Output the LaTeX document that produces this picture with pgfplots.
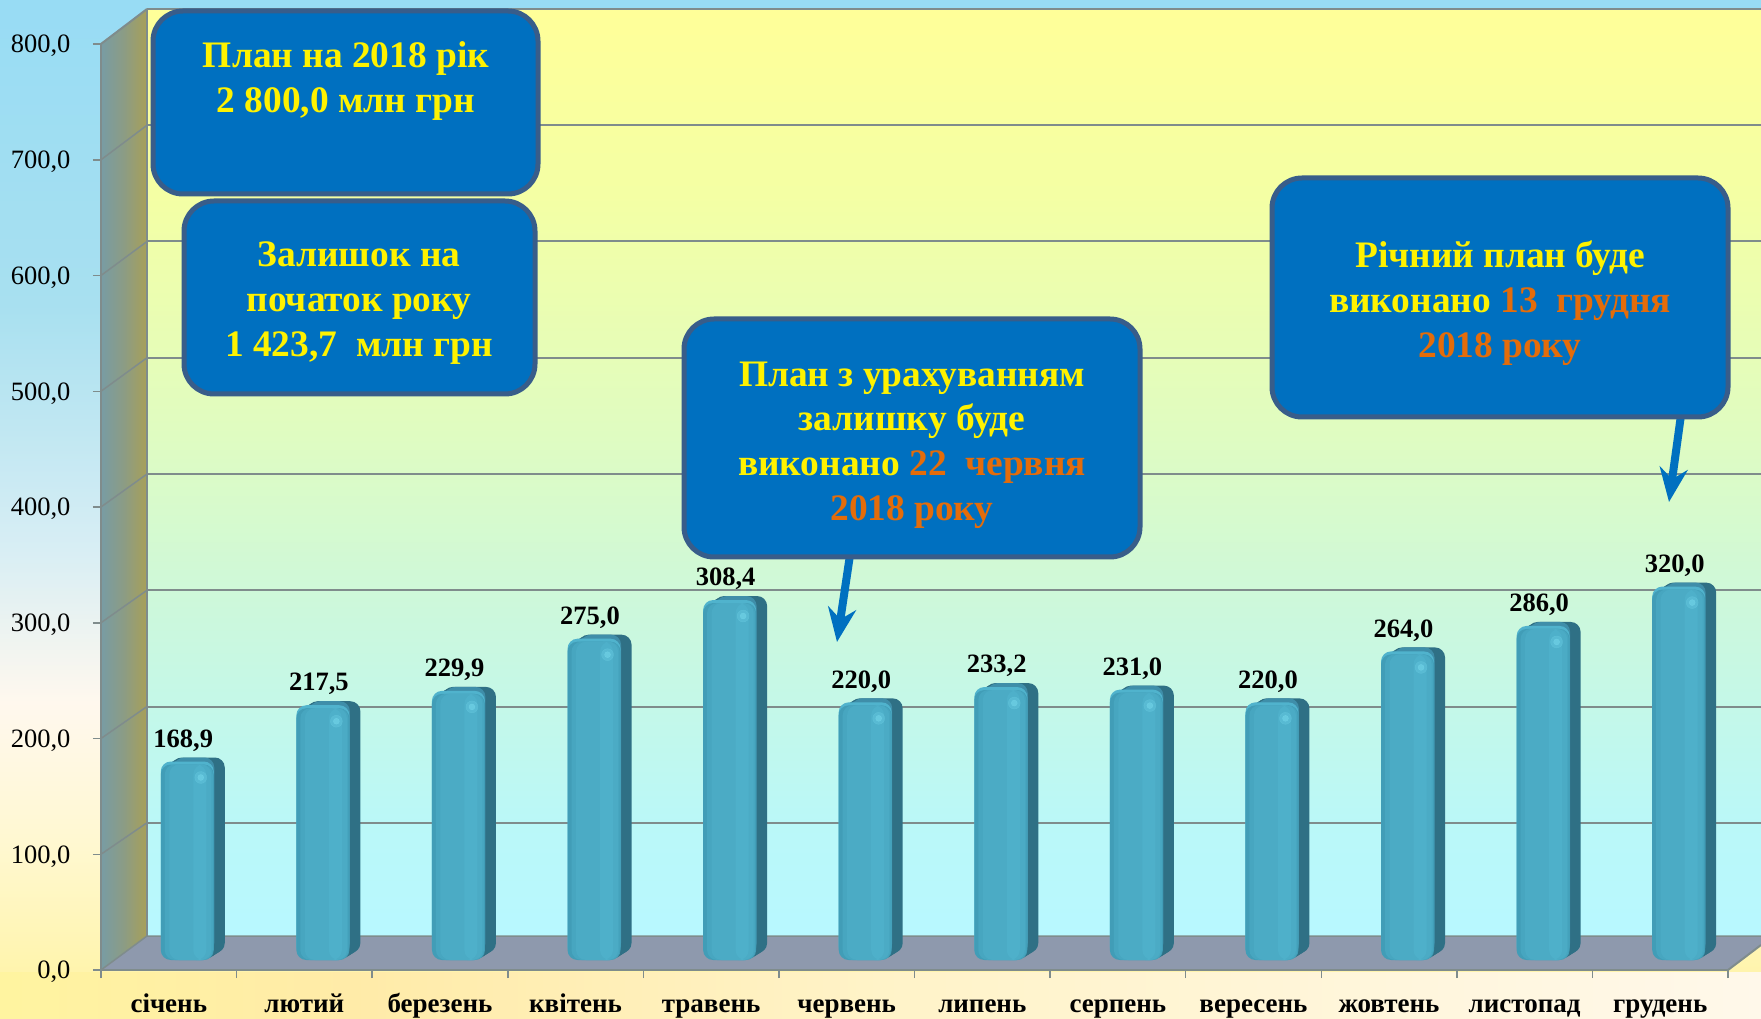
\documentclass[border=0pt]{standalone}
\usepackage{fontspec}
\setmainfont{Liberation Serif}
\usepackage{pgfplots}
\usepackage{pgfplotstable}
\pgfplotsset{compat=1.18}
\usetikzlibrary{arrows.meta}
\definecolor{boxblue}{HTML}{0070C0}
\definecolor{boxedge}{HTML}{385D8A}
\definecolor{gridgrey}{HTML}{7F8C8C}
\definecolor{orangetxt}{HTML}{E46C0A}
\definecolor{floorc}{HTML}{8E99AD}
\definecolor{hilite}{HTML}{72D4E8}
\definecolor{pa}{HTML}{FFF3A0}\definecolor{pb}{HTML}{FFF8D0}\definecolor{pc}{HTML}{FFF8EE}\definecolor{pd}{HTML}{D8EEF4}\definecolor{pe}{HTML}{A8E0F0}\definecolor{pf}{HTML}{98DCF4}
\definecolor{sa}{HTML}{FFF4A0}\definecolor{sb}{HTML}{FFEBA8}\definecolor{sc}{HTML}{FFF3C8}\definecolor{sd}{HTML}{FFF8EA}
\definecolor{wa}{HTML}{B8F8FF}\definecolor{wb}{HTML}{BAF8F8}\definecolor{wc}{HTML}{CCF8DC}\definecolor{wd}{HTML}{E0FCC0}\definecolor{we}{HTML}{F4FFA4}\definecolor{wf}{HTML}{FFFF99}
\definecolor{la}{HTML}{789CA4}\definecolor{lb}{HTML}{8C9C84}\definecolor{lc}{HTML}{A8A058}
\definecolor{ba}{HTML}{3F8EA9}\definecolor{bb}{HTML}{2F7085}
\definecolor{capc}{HTML}{50B3CD}
\definecolor{fa}{HTML}{419DB7}\definecolor{fb}{HTML}{47A6C0}\definecolor{fc}{HTML}{4BABC5}\definecolor{fd}{HTML}{4EB0CA}
\pgfdeclareverticalshading{pagebg}{100bp}{color(0bp)=(pa);color(25bp)=(pa);color(33.5bp)=(pb);color(40.5bp)=(pc);color(48bp)=(pd);color(60bp)=(pe);color(75bp)=(pf);color(100bp)=(pf)}
\pgfdeclarehorizontalshading{bottomstrip}{100bp}{color(0bp)=(sa);color(25bp)=(sa);color(35bp)=(sb);color(50bp)=(sc);color(75bp)=(sd);color(100bp)=(sd)}
\pgfdeclareverticalshading{backwall}{100bp}{color(0bp)=(wa);color(25bp)=(wa);color(31bp)=(wb);color(42.5bp)=(wc);color(52.5bp)=(wd);color(65bp)=(we);color(75bp)=(wf);color(100bp)=(wf)}
\pgfdeclarehorizontalshading{sidewall}{100bp}{color(0bp)=(la);color(25bp)=(la);color(50bp)=(lb);color(75bp)=(lc);color(100bp)=(lc)}
\pgfplotstableread{
x v
0.5 168.9
1.5 217.5
2.5 229.9
3.5 275.0
4.5 308.4
5.5 220.0
6.5 233.2
7.5 231.0
8.5 220.0
9.5 264.0
10.5 286.0
11.5 320.0
}\monthly
\begin{document}
\begin{tikzpicture}
\path[use as bounding box] (0,0) rectangle (1761pt,1018pt);
\begin{scope}[x=1pt,y=-1pt,shift={(0pt,1018pt)}]
  \shade[shading=pagebg] (0,0) rectangle (1761,1018);
  \shade[shading=bottomstrip] (0,972) rectangle (1761,1018);
  \shade[shading=backwall] (147,9) rectangle (1761,936);
  \shade[shading=sidewall] (101,43) -- (147,9) -- (147,936) -- (101,970) -- cycle;
\end{scope}
% back wall gridlines: an axis of their own, in the plane of the wall
\begin{axis}[
  scale only axis, width=1627pt, height=930pt,
  at={(147pt,79pt)}, anchor=south west,
  clip=false, xmin=0, xmax=12, ymin=0, ymax=800,
  axis line style={draw=none}, xtick=\empty, ytick={100,200,...,800}, yticklabels={},
  major tick length=0pt,
  ymajorgrids, major grid style={draw=gridgrey, line width=2pt},
]
\addplot[draw=none] coordinates {(0,0)};
\end{axis}
\begin{scope}[x=1pt,y=-1pt,shift={(0pt,1018pt)}]
  \fill[floorc] (101,970) -- (147,936) -- (1761,936) -- (1761,945) -- (1728,970) -- cycle;
  \draw[gridgrey,line width=2pt] (101,44) -- (147,9);
  \draw[gridgrey,line width=1.5pt] (147,9) -- (147,936);
  \draw[gridgrey,line width=1.5pt] (101,970) -- (147,936) -- (1761,936);
  \draw[gridgrey,line width=2pt] (1728,970) -- (1761,945);
\end{scope}
\begin{axis}[
  scale only axis, width=1627pt, height=926pt,
  at={(101pt,48pt)}, anchor=south west,
  clip=false,
  xmin=0, xmax=12, ymin=0, ymax=800,
  axis x line*=bottom, axis y line*=left,
  axis line style={draw=gridgrey, line width=2pt, -},
  xtick={0,...,12},
  x tick label as interval,
  xticklabels={січень,лютий,березень,квітень,травень,червень,липень,серпень,вересень,жовтень,листопад,грудень},
  ytick={0,100,...,800},
  tick align=outside,
  major tick length=8pt,
  every tick/.style={draw=gridgrey, line width=1.5pt},
  /pgf/number format/.cd, fixed, fixed zerofill, precision=1, use comma, assume math mode=true,
  /pgfplots/.cd,
  yticklabel style={font=\fontsize{26.5}{30}\selectfont, text=black, xshift=-19pt, yshift=-2pt},
  xticklabel style={font=\bfseries\fontsize{27}{30}\selectfont, text=black, anchor=base, yshift=-34pt},
  layerbar/.style n args={4}{ybar, bar width=#1pt, bar shift=0pt, draw=none, fill=#2, rounded corners=10pt, xshift=#3pt, yshift=#4pt},
]
\pgfplotsinvokeforeach{100,200,...,700}{
  \draw[gridgrey,line width=1.5pt] (axis cs:0,#1) -- ++(46pt,{(31+0.005*#1)*1pt});
}
% side of the bars
\addplot[layerbar={53}{bb}{29.5}{17}] table[x=x,y=v] {\monthly};
\addplot[layerbar={53}{bb}{27.5}{15.7}] table[x=x,y=v] {\monthly};
\addplot[layerbar={53}{bb}{25.5}{14.5}] table[x=x,y=v] {\monthly};
\addplot[layerbar={53}{bb}{23.5}{13.2}] table[x=x,y=v] {\monthly};
\addplot[layerbar={53}{bb}{21.5}{11.9}] table[x=x,y=v] {\monthly};
% top of the bars
\addplot[layerbar={40}{ba}{25.5}{17}] table[x=x,y=v] {\monthly};
\addplot[layerbar={40}{ba}{23.5}{15.7}] table[x=x,y=v] {\monthly};
\addplot[layerbar={40}{ba}{21.5}{14.5}] table[x=x,y=v] {\monthly};
\addplot[layerbar={40}{ba}{19.5}{13.2}] table[x=x,y=v] {\monthly};
% front face, outer layers first
\addplot[layerbar={53}{capc}{18.5}{13},
  nodes near coords,
  every node near coord/.append style={font=\bfseries\fontsize{26.5}{28}\selectfont, text=black, yshift=8pt, xshift=-4pt, inner sep=2pt},
] table[x=x,y=v] {\monthly};
\addplot[layerbar={53}{fa}{18.5}{10}] table[x=x,y=v] {\monthly};
\addplot[layerbar={48}{fb}{20}{10}] table[x=x,y=v] {\monthly};
\addplot[layerbar={42}{fc}{21.5}{10}] table[x=x,y=v] {\monthly};
\addplot[layerbar={13}{fd}{31}{10}] table[x=x,y=v] {\monthly};
% highlight on the rounded edge
\addplot[only marks, mark=*, mark size=6pt, color=hilite, mark options={draw=none, fill=hilite, opacity=0.3},
  xshift=32pt, yshift=-3pt] table[x=x,y=v] {\monthly};
\addplot[only marks, mark=*, mark size=3pt, color=hilite, mark options={draw=none, fill=hilite, opacity=0.6},
  xshift=32pt, yshift=-3pt] table[x=x,y=v] {\monthly};
\end{axis}
\begin{scope}[x=1pt,y=-1pt,shift={(0pt,1018pt)}]
  \draw[boxblue,line width=8pt,-{Stealth[length=34pt,width=28pt]}] (850,555) -- (837,642);
  \draw[boxblue,line width=8pt,-{Stealth[length=34pt,width=28pt]}] (1681,415) -- (1669,502);
  \tikzset{callout/.style={fill=boxblue,draw=boxedge,line width=5pt,rounded corners=30pt},
    ct/.style={align=center,text=yellow,font=\bfseries\fontsize{37.4}{44.7}\selectfont,inner sep=0pt}}
  \draw[callout] (153,11) rectangle (538,194);
  \draw[callout] (184,201) rectangle (535,394);
  \draw[callout] (684,319) rectangle (1140,557);
  \draw[callout] (1272,178) rectangle (1728,417);
  \node[ct] at (346,81) {План на 2018 рік\\2 800,0 млн грн};
  \node[ct] at (359,303) {Залишок на\\початок року\\1 423,7\ \ млн грн};
  \node[ct] at (912,445) {План з урахуванням\\залишку буде\\виконано \textcolor{orangetxt}{22\ \ червня}\\\textcolor{orangetxt}{2018 року}};
  \node[ct] at (1500,303) {Річний план буде\\виконано \textcolor{orangetxt}{13\ \ грудня}\\\textcolor{orangetxt}{2018 року}};
\end{scope}
\end{tikzpicture}
\end{document}
